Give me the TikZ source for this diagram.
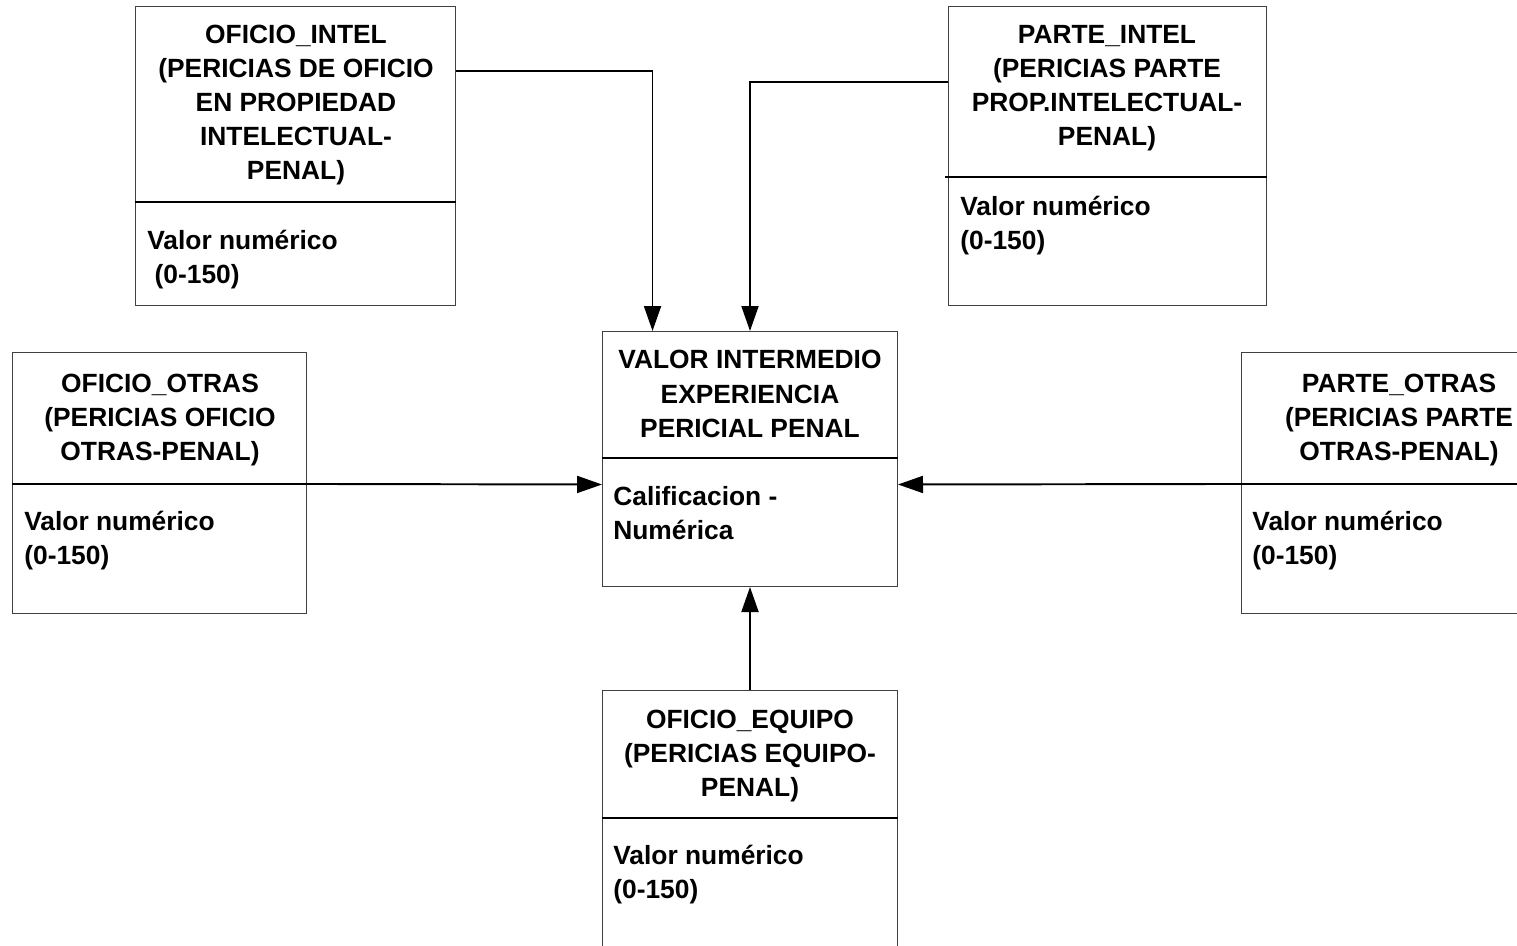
\documentclass[tikz,border=0pt]{standalone}
\usepackage{fontspec}
\setmainfont{Liberation Sans}
\usetikzlibrary{arrows.meta,positioning}

\begin{document}
\begin{tikzpicture}[x=0.02cm, y=-0.02cm,
      ent/.style={draw=black!75, line width=0.6pt, anchor=north west, inner sep=0pt},
      sep/.style={line width=1.1pt},
      ttl/.style={font=\bfseries\fontsize{15}{19.4}\selectfont, align=center, inner sep=0pt},
      val/.style={font=\bfseries\fontsize{15}{19.4}\selectfont, align=left, inner sep=0pt, anchor=west},
      arr/.style={-{Triangle[length=5mm, width=3.4mm]}, line width=1.1pt}]
    \useasboundingbox (0,0) rectangle (1517,946);
    % entity boxes
    \node[ent, minimum width=6.4cm, minimum height=5.98cm] (oint) at (135,6) {};
    \node[ent, minimum width=6.36cm, minimum height=5.98cm] (pint) at (948,6) {};
    \node[ent, minimum width=5.9cm, minimum height=5.1cm] (valor) at (602,331) {};
    \node[ent, minimum width=5.88cm, minimum height=5.22cm] (ootr) at (12,352) {};
    \node[ent, minimum width=6.32cm, minimum height=5.22cm] (potr) at (1241,352) {};
    \node[ent, minimum width=5.9cm, minimum height=6cm] (oequ) at (602,690) {};
    % dividers
    \draw[sep] (oint.west |- 0,202) -- (oint.east |- 0,202);
    \draw[sep] (945,177) -- (pint.east |- 0,177);
    \draw[sep] (valor.west |- 0,458) -- (valor.east |- 0,458);
    \draw[sep] (ootr.west |- 0,484) -- (ootr.east |- 0,484);
    \draw[sep] (potr.west |- 0,484) -- (potr.east |- 0,484);
    \draw[sep] (oequ.west |- 0,818) -- (oequ.east |- 0,818);
    % titles
    \node[ttl] (oint-t) at (296,105) {OFICIO\_INTEL\\(PERICIAS DE OFICIO\\EN PROPIEDAD\\INTELECTUAL-\\PENAL)};
    \node[ttl] (pint-t) at (1107,88) {PARTE\_INTEL\\(PERICIAS PARTE\\PROP.INTELECTUAL-\\PENAL)};
    \node[ttl] (valor-t) at (750,394) {VALOR INTERMEDIO\\EXPERIENCIA\\PERICIAL PENAL};
    \node[ttl] (ootr-t) at (160,420) {OFICIO\_OTRAS\\(PERICIAS OFICIO\\OTRAS-PENAL)};
    \node[ttl] (potr-t) at (1399,420) {PARTE\_OTRAS\\(PERICIAS PARTE\\OTRAS-PENAL)};
    \node[ttl] (oequ-t) at (750,756) {OFICIO\_EQUIPO\\(PERICIAS EQUIPO-\\PENAL)};
    % attributes
    \node[val] (oint-v) at (147,260) {Valor numérico\\~(0-150)};
    \node[val] (pint-v) at (960,226) {Valor numérico\\(0-150)};
    \node[val] (valor-v) at (613,513) {Calificacion -\\Numérica};
    \node[val] (ootr-v) at (24,541) {Valor numérico\\(0-150)};
    \node[val] (potr-v) at (1252,541) {Valor numérico\\(0-150)};
    \node[val] (oequ-v) at (613,875) {Valor numérico\\(0-150)};
    % connectors
    \draw[arr] ([yshift=-1.3cm]oint.north east) -| ([xshift=-1.95cm]valor.north);
    \draw[arr] ([yshift=-1.52cm]pint.north west) -| (valor.north);
    \draw[arr] ([yshift=-2.64cm]ootr.north east) -- ([yshift=-0.51cm]valor.west);
    \draw[arr] ([yshift=-2.64cm]potr.north west) -- ([yshift=-0.51cm]valor.east);
    \draw[arr] (oequ.north) -- (valor.south);
\end{tikzpicture}
\end{document}
